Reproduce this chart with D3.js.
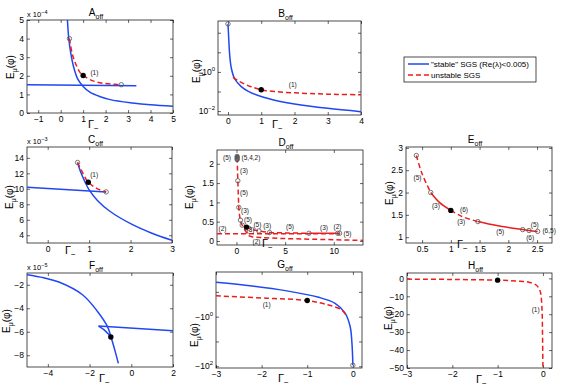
<!DOCTYPE html>
<html>
<head>
<meta charset="utf-8">
<script src="https://cdn.jsdelivr.net/npm/d3@7"></script>
<style>
  body { margin: 0; background: #fff; }
  #chart { font-family: "Liberation Sans", Arial, sans-serif; }
</style>
</head>
<body>
<svg id="chart" width="574" height="388"></svg>
<script>
// values, as [Gamma_-, E_mu(phi)] in axis units

// A_off (y in 1e-4)
const aStable = [[0.3,5.0],[0.36,4.0],[0.45,3.2],[0.57,2.5],[0.75,1.85],[1.0,1.43],[1.3,1.12],[1.73,0.89],[2.2,0.72],[3.2,0.54],[4,0.44],[5,0.36]];
const aStableFlat = [[-1.5,1.52],[3.37,1.46]];
const aUnstable = [[0.39,4.0],[0.5,3.25],[0.6,2.85],[0.72,2.5],[0.85,2.2],[1.0,2.02],[1.3,1.8],[1.6,1.67],[2.0,1.58],[2.4,1.54],[2.7,1.52]];
const aCircles = [[0.39,4.0],[2.7,1.52]];
const aDot = [1.0,2.02];

// B_off (log y)
const bStable = [[0,282],[0.02,63],[0.05,7.9],[0.1,1.58],[0.2,0.447],[0.4,0.178],[0.6,0.105],[1,0.055],[1.5,0.033],[2,0.023],[3,0.0138],[4,0.0093]];
const bUnstable = [[0.15,0.525],[0.3,0.355],[0.5,0.24],[0.7,0.174],[1,0.123],[1.4,0.1],[2,0.085],[2.7,0.076],[3.3,0.071],[4,0.068]];
const bCircles = [[0,282]];
const bDot = [1,0.123];

// C_off (y in 1e-3)
const cStable = [[0.72,13.4],[0.8,12.1],[0.9,10.9],[1.0,9.85],[1.2,8.5],[1.5,7.1],[2.0,5.5],[2.5,4.3],[3.0,3.35]];
const cStableFlat = [[-0.5,10.2],[1.41,9.6]];
const cUnstable = [[0.72,13.4],[0.85,12.0],[0.98,10.85],[1.2,10.0],[1.41,9.6]];
const cCircles = [[0.72,13.4],[1.41,9.6]];
const cDot = [0.98,10.85];

// D_off (all unstable)
const dUpper = [[0.07,2.16],[0.1,1.9],[0.14,1.56],[0.19,1.2],[0.24,0.87],[0.32,0.66],[0.41,0.54],[0.59,0.41],[0.8,0.38],[1.03,0.36],[1.27,0.33],[1.7,0.29],[2.3,0.26],[3.4,0.22],[5,0.21],[7.45,0.2]];
const dUpperSolid = [[7.45,0.2],[10.6,0.2]];
const dFlat = [[-2,0.19],[10.6,0.19]];
const dLower = [[0.8,0.31],[1.0,0.23],[1.17,0.15],[1.35,0.13],[1.6,0.11],[2.5,0.09],[4.7,0.065],[8,0.045],[13,0.015]];
const dCircles = [[0.14,1.56],[0.24,0.87],[0.41,0.54],[0.59,0.41],[1.27,0.33],[2.3,0.26],[3.4,0.22],[7.45,0.2],[10.4,0.2],[10.6,0.2]];
const dTopCircles = [[0.07,2.19],[0.07,2.15],[0.07,2.11]];
const dDot = [1.03,0.36];
const dLabels = [["(5)",-0.97,2.15],["(5,4,2)",1.49,2.15],["(3)",0.77,1.81],["(5)",0.77,1.24],["(3)",0.88,0.78],["(5)",1.19,0.54],["(3)",1.45,0.3],["(5)",2.15,0.42],["(3)",3.15,0.39],["(5)",5.5,0.375],["(3)",9.0,0.35],["(2)",10.38,0.375],["(5)",11.41,0.19],["(2)",-1.43,0.32],["(2)",2.06,-0.03]];

// E_off (all unstable, dashed and solid pieces)
const eDashed1 = [[0.4,2.83],[0.5,2.42],[0.65,2.0]];
const eSolid1 = [[0.65,2.0],[0.8,1.78],[1.0,1.6]];
const eDashed2 = [[1.0,1.6],[1.2,1.46],[1.47,1.35]];
const eSolid2 = [[1.47,1.35],[1.8,1.26],[2.25,1.17],[2.36,1.15],[2.51,1.13]];
const eCircles = [[0.4,2.83],[0.65,2.0],[1.47,1.35],[2.25,1.17],[2.36,1.15],[2.51,1.13]];
const eDot = [1.0,1.6];
const eLabels = [["(5)",0.42,2.34],["(3)",0.74,1.7],["(6)",1.23,1.61],["(3)",1.18,1.35],["(5)",1.86,1.12],["(5)",2.46,1.27],["(6)",2.38,0.99],["(6,5)",2.71,1.15]];

// F_off (y in 1e-5, all stable)
const fMain = [[-5,-1.14],[-4.2,-1.4],[-3.47,-1.77],[-2.34,-2.85],[-1.62,-4.27],[-1.14,-5.56],[-0.98,-6.41],[-0.77,-7.69],[-0.62,-8.69]];
const fCusp = [[-1.57,-5.52],[-1.3,-5.84],[-1.1,-6.2],[-0.98,-6.45]];
const fFlat = [[-1.57,-5.52],[2,-5.92]];
const fDot = [-0.98,-6.45];

// G_off (negative log y)
const gStable = [[-3,-0.041],[-2.21,-0.058],[-1.48,-0.089],[-0.75,-0.166],[-0.39,-0.29],[-0.17,-0.72],[-0.06,-2.5],[-0.02,-12],[0,-91]];
const gUnstable = [[-3,-0.145],[-1.9,-0.18],[-1,-0.224],[-0.53,-0.34],[-0.24,-0.54],[-0.13,-1.0]];
const gCircles = [[0,-91]];
const gDot = [-1,-0.224];

// H_off
const hUnstable = [[-3,-0.4],[-2,-0.6],[-1,-1.0],[-0.5,-1.6],[-0.33,-2.0],[-0.15,-3.7],[-0.08,-6],[-0.05,-8.3],[-0.02,-17.6],[-0.01,-30],[0,-50]];
const hDot = [-1,-1];

// tick values
const aTicksX = [-1,0,1,2,3,4,5], aTicksY = [0,1,2,3,4,5];
const bTicksX = [0,1,2,3,4], bTicksY = [0.01,1];
const cTicksX = [0,1,2,3], cTicksY = [4,6,8,10,12,14];
const dTicksX = [0,5,10], dTicksY = [0,0.5,1,1.5,2];
const eTicksX = [0.5,1,1.5,2,2.5], eTicksY = [1,1.5,2,2.5,3];
const fTicksX = [-4,-2,0,2], fTicksY = [-8,-6,-4,-2];
const gTicksX = [-3,-2,-1,0], gTicksY = [-1,-100];
const hTicksX = [-3,-2,-1,0], hTicksY = [-50,-40,-30,-20,-10,0];

const BLUE = "#1f48f2", RED = "#ee1c1c";
const svg = d3.select("#chart");
const defs = svg.append("defs");

function panel(c) {
  const [x0, x1, y0, y1] = c.box;
  const g = svg.append("g");
  const x = d3.scaleLinear().domain(c.xd).range([x0, x1]);
  let y;
  if (c.ylog === "pos") y = d3.scaleLog().domain(c.yd).range([y1, y0]);
  else if (c.ylog === "neg") y = d3.scaleLog().domain(c.yd).range([y0, y1]);
  else y = d3.scaleLinear().domain(c.yd).range([y1, y0]);
  const Y = c.ylog === "neg" ? v => y(-v) : v => y(v);

  defs.append("clipPath").attr("id", "clip" + c.id)
    .append("rect").attr("x", x0).attr("y", y0).attr("width", x1 - x0).attr("height", y1 - y0);

  const fmt = d3.format("~g");
  const style = sel => {
    sel.select(".domain").remove();
    sel.attr("font-family", null).attr("font-size", 8.5);
    sel.selectAll("line").attr("stroke", "#000").attr("stroke-width", 0.6);
  };

  g.append("g").attr("transform", `translate(0,${y1})`)
    .call(d3.axisBottom(x).tickValues(c.xt).tickSize(-3).tickPadding(3).tickFormat(fmt)).call(style);
  g.append("g").attr("transform", `translate(0,${y0})`)
    .call(d3.axisTop(x).tickValues(c.xt).tickSize(-3).tickFormat("")).call(style);

  const ytAll = (c.ylog ? c.ymajor : c.yt).map(v => c.ylog === "neg" ? -v : v);
  const yAxisL = d3.axisLeft(y).tickValues(ytAll).tickSize(-3).tickPadding(3);
  const yAxisR = d3.axisRight(y).tickValues(ytAll).tickSize(-3).tickFormat("");
  yAxisL.tickFormat(c.ylog ? "" : fmt);
  g.append("g").attr("transform", `translate(${x0},0)`).call(yAxisL).call(style);
  g.append("g").attr("transform", `translate(${x1},0)`).call(yAxisR).call(style);

  // power-of-ten labels for the log axes
  if (c.ylog) {
    c.yt.forEach(v => {
      const t = g.append("text").attr("x", x0 - 3).attr("y", Y(v) + 3)
        .attr("text-anchor", "end").attr("font-size", 8.5);
      t.append("tspan").text(v < 0 ? "\u221210" : "10");
      t.append("tspan").attr("dy", -4).attr("font-size", 6)
        .text(String(Math.round(Math.log10(Math.abs(v)))).replace("-", "\u2212"));
    });
  }

  g.append("rect").attr("x", x0).attr("y", y0).attr("width", x1 - x0).attr("height", y1 - y0)
    .attr("fill", "none").attr("stroke", "#000").attr("stroke-width", 0.7);

  // title
  const tt = g.append("text").attr("x", (x0 + x1) / 2 - 4).attr("y", y0 - 4)
    .attr("text-anchor", "middle").attr("font-size", 10);
  tt.append("tspan").text(c.id);
  tt.append("tspan").attr("dy", 2.5).attr("font-size", 7).text("off");

  // exponent
  if (c.exp) {
    const ex = g.append("text").attr("x", x0).attr("y", y0 - 3).attr("font-size", 7.5);
    ex.append("tspan").text("x 10");
    ex.append("tspan").attr("dy", -3).attr("font-size", 5.5).text(c.exp);
  }

  // axis labels
  const yl = g.append("text").attr("transform", `translate(${c.yl[0]},${c.yl[1]}) rotate(-90)`)
    .attr("text-anchor", "middle").attr("font-size", 10);
  yl.append("tspan").text("E");
  yl.append("tspan").attr("dy", 3).attr("font-size", 7).text("\u03bc");
  yl.append("tspan").attr("dy", -3).text("(\u03c6)");

  const xl = g.append("text").attr("x", c.xl[0]).attr("y", c.xl[1]).attr("font-size", 11);
  xl.append("tspan").text("\u0393");
  xl.append("tspan").attr("dy", 3).attr("font-size", 8).text("\u2212");

  return { id: c.id, g, x, Y };
}

function curve(p, pts, color, dashed) {
  p.g.append("path").datum(pts)
    .attr("clip-path", `url(#clip${p.id})`)
    .attr("fill", "none").attr("stroke", color).attr("stroke-width", 1.5)
    .attr("stroke-dasharray", dashed ? "5,3" : null)
    .attr("d", d3.line().x(d => p.x(d[0])).y(d => p.Y(d[1])).curve(d3.curveCatmullRom.alpha(0.5)));
}
function circles(p, pts, fill) {
  p.g.selectAll(null).data(pts).join("circle")
    .attr("cx", d => p.x(d[0])).attr("cy", d => p.Y(d[1])).attr("r", 2.2)
    .attr("fill", fill || "none").attr("stroke", "#555").attr("stroke-width", 0.8);
}
function dot(p, d) {
  p.g.append("circle").attr("cx", p.x(d[0])).attr("cy", p.Y(d[1])).attr("r", 2.7).attr("fill", "#000");
}
function labels(p, list) {
  p.g.selectAll(null).data(list).join("text")
    .attr("x", d => p.x(d[1])).attr("y", d => p.Y(d[2])).attr("dy", "0.35em")
    .attr("text-anchor", "middle").attr("font-size", 6.5).attr("fill", "#222")
    .text(d => d[0]);
}

// A
const pA = panel({ id: "A", box: [27, 173, 20, 113], xd: [-1.5, 5], yd: [0, 5], xt: aTicksX, yt: aTicksY, exp: "\u22124", yl: [13.5, 67], xl: [88, 128] });
curve(pA, aStable, BLUE); curve(pA, aStableFlat, BLUE);
curve(pA, aUnstable, RED, true);
circles(pA, aCircles); dot(pA, aDot);
labels(pA, [["(1)", 1.5, 2.15]]);

// B
const pB = panel({ id: "B", box: [218, 361, 21, 115], xd: [-0.3, 4], yd: [0.0063, 398], ylog: "pos", ymajor: [0.01, 0.1, 1, 10, 100], xt: bTicksX, yt: bTicksY, yl: [200, 71], xl: [272, 128] });
curve(pB, bStable, BLUE); curve(pB, bUnstable, RED, true);
circles(pB, bCircles); dot(pB, bDot);
labels(pB, [["(1)", 1.95, 0.214]]);

// C
const pC = panel({ id: "C", box: [27, 172, 147, 243], xd: [-0.5, 3], yd: [3, 15.4], xt: cTicksX, yt: cTicksY, exp: "\u22123", yl: [13, 197], xl: [65, 254] });
curve(pC, cStable, BLUE); curve(pC, cStableFlat, BLUE);
curve(pC, cUnstable, RED, true);
circles(pC, cCircles); dot(pC, cDot);
labels(pC, [["(1)", 1.12, 11.8]]);

// D
const pD = panel({ id: "D", box: [217, 363, 150, 245], xd: [-2, 13], yd: [-0.104, 2.357], xt: dTicksX, yt: dTicksY, yl: [193, 197], xl: [262, 247] });
curve(pD, dFlat, RED, true); curve(pD, dLower, RED, true);
curve(pD, dUpper, RED, true); curve(pD, dUpperSolid, RED);
circles(pD, dCircles); circles(pD, dTopCircles, "#666"); dot(pD, dDot);
labels(pD, dLabels);

// E
const pE = panel({ id: "E", box: [406, 552, 147, 243], xd: [0.22, 2.76], yd: [0.87, 3.02], xt: eTicksX, yt: eTicksY, yl: [392.5, 193], xl: [457, 248] });
curve(pE, eDashed1, RED, true); curve(pE, eSolid1, RED);
curve(pE, eDashed2, RED, true); curve(pE, eSolid2, RED);
circles(pE, eCircles); dot(pE, eDot);
labels(pE, eLabels);

// F
const pF = panel({ id: "F", box: [27, 173, 273, 367], xd: [-5, 2], yd: [-9, -1], xt: fTicksX, yt: fTicksY, exp: "\u22125", yl: [9.5, 321], xl: [99, 382] });
curve(pF, fMain, BLUE); curve(pF, fCusp, BLUE); curve(pF, fFlat, BLUE);
dot(pF, fDot);

// G
const pG = panel({ id: "G", box: [216, 362, 272, 368], xd: [-3, 0.2], yd: [0.0158, 117.5], ylog: "neg", ymajor: [-0.1, -1, -10, -100], xt: gTicksX, yt: gTicksY, yl: [197.5, 335], xl: [278, 382] });
curve(pG, gStable, BLUE); curve(pG, gUnstable, RED, true);
circles(pG, gCircles); dot(pG, gDot);
labels(pG, [["(1)", -1.89, -0.34]]);

// H
const pH = panel({ id: "H", box: [407, 552, 273, 368], xd: [-3, 0.2], yd: [-50, 3], xt: hTicksX, yt: hTicksY, yl: [392, 318], xl: [476, 383] });
curve(pH, hUnstable, RED, true);
dot(pH, hDot);
labels(pH, [["(1)", -0.16, -17.7]]);

// legend
const lg = svg.append("g");
lg.append("rect").attr("x", 404).attr("y", 57).attr("width", 132).attr("height", 25)
  .attr("fill", "#fff").attr("stroke", "#000").attr("stroke-width", 0.7);
lg.append("line").attr("x1", 408).attr("x2", 429).attr("y1", 64).attr("y2", 64)
  .attr("stroke", BLUE).attr("stroke-width", 1.5);
lg.append("line").attr("x1", 408).attr("x2", 429).attr("y1", 75).attr("y2", 75)
  .attr("stroke", RED).attr("stroke-width", 1.5).attr("stroke-dasharray", "5,3");
lg.append("text").attr("x", 431).attr("y", 67).attr("font-size", 8).text("\"stable\" SGS (Re(\u03bb)<0.005)");
lg.append("text").attr("x", 431).attr("y", 78).attr("font-size", 8).text("unstable SGS");
</script>
</body>
</html>
